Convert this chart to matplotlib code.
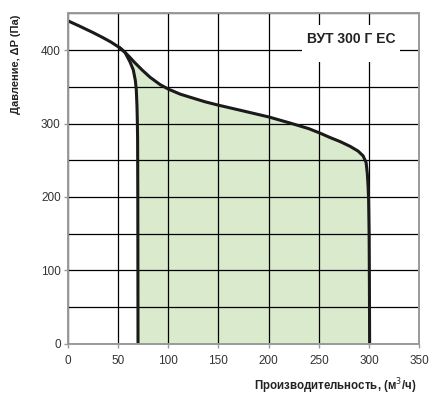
import matplotlib
matplotlib.use("Agg")
import matplotlib.pyplot as plt
from matplotlib.patches import Rectangle

plt.rcParams["font.family"] = ["Liberation Sans", "DejaVu Sans"]

# ------------------------------------------------------------
# Data
# ------------------------------------------------------------
# upper curve (fan characteristic at max speed)
upper_x = [0, 12, 25, 35, 43, 52, 57, 62, 66, 74, 82, 92, 100, 112, 125, 137, 150,
           172, 200, 223, 240, 251, 261, 271, 281, 289, 294, 297, 298.2, 299, 299.5,
           300, 300.3, 300.5]
upper_y = [440, 432.5, 424, 417, 411, 403, 397, 390, 384, 373, 363, 353, 347, 340, 334.5,
           329.5, 325, 318, 309, 300, 293, 287, 281, 275.5, 269, 262.5, 256, 247, 232, 214,
           196, 150, 80, 0]

# lower-left curve (min. flow limit)
left_x = [52, 57, 62, 65.3, 67.3, 68.3, 69, 69.3, 69.6, 69.8, 70]
left_y = [403, 397, 384, 373, 359, 346, 323, 305, 280, 200, 0]

x_ticks = [0, 50, 100, 150, 200, 250, 300, 350]
y_ticks = [0, 100, 200, 300, 400]
y_grid_minor = [50, 150, 250, 350, 450]

title = "ВУТ 300 Г ЕС"
xlabel = "Производительность, (м$^3$/ч)"
ylabel = "Давление, ΔP (Па)"

# ------------------------------------------------------------
fig = plt.figure(figsize=(4.31, 4.05), dpi=100)
ax = fig.add_axes([0.157, 0.151, 0.816, 0.816])

# green working area between left limit and upper curve
poly_x = left_x[::-1] + [x for x in upper_x if x > 57]
poly_y = left_y[::-1] + [y for x, y in zip(upper_x, upper_y) if x > 57]
ax.fill(poly_x, poly_y, color="#d9eacd", zorder=1, lw=0)

ax.plot(upper_x, upper_y, color="#1a1a1a", lw=2.2, zorder=4, solid_joinstyle="round")
ax.plot(left_x, left_y, color="#1a1a1a", lw=2.2, zorder=4, solid_joinstyle="round")

ax.set_xlim(0, 350)
ax.set_ylim(0, 450)
ax.set_xticks(x_ticks)
ax.set_yticks(y_ticks)
ax.set_yticks(y_grid_minor, minor=True)

ax.grid(True, which="both", color="black", lw=0.9)
for ln in ax.get_xgridlines() + ax.get_ygridlines():
    ln.set_zorder(2)

for s in ax.spines.values():
    s.set_color("#9a9a9a")
    s.set_linewidth(1.4)
    s.set_zorder(5)

ax.tick_params(axis="both", which="major", length=3, width=1, color="#9a9a9a",
               labelsize=8.5, labelcolor="#333333", pad=2)
ax.tick_params(axis="y", which="minor", length=0)
ax.tick_params(axis="x", pad=5)

# white label box over the grid
ax.add_patch(Rectangle((233, 384), 98, 50, facecolor="white", edgecolor="none", zorder=3))
ax.text(282, 415, title, ha="center", va="center", fontsize=10, fontweight="bold",
        color="#222222", zorder=6)

fig.text(0.967, 0.047, xlabel, ha="right", va="center", fontsize=8.3, fontweight="bold",
         color="#222222")
fig.text(0.037, 0.842, ylabel, ha="center", va="center", rotation=90, fontsize=8,
         fontweight="bold", color="#222222")

fig.savefig("out.png", dpi=100)
